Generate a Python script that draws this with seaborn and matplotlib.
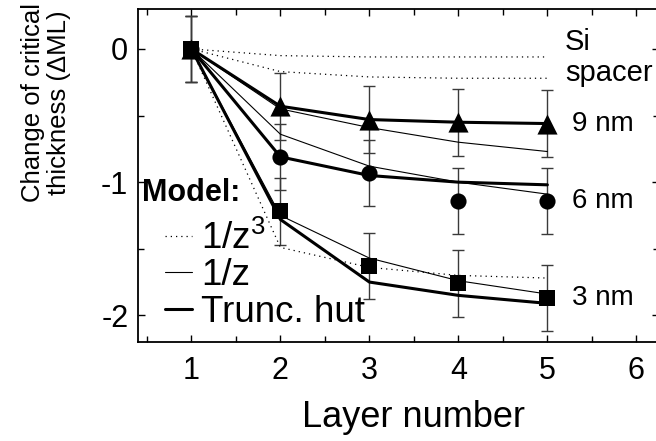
import matplotlib
matplotlib.use("Agg")
import matplotlib.pyplot as plt
from matplotlib.lines import Line2D
from matplotlib.ticker import MultipleLocator
import pandas as pd
import seaborn as sns

# Layer index along the stack
layers = [1, 2, 3, 4, 5]

# Measured change of critical thickness (ML) for each Si spacer thickness
spacers = ["9 nm", "6 nm", "3 nm"]
meas_9nm = [0.0, -0.43, -0.53, -0.55, -0.56]
meas_6nm = [0.0, -0.81, -0.93, -1.14, -1.14]
meas_3nm = [0.0, -1.22, -1.63, -1.76, -1.87]
meas_err = [0.25, 0.25, 0.25, 0.25, 0.25]

# Model curves: truncated hut, 1/z and 1/z^3 strain decay
hut_9nm = [0.0, -0.43, -0.53, -0.55, -0.56]
hut_6nm = [0.0, -0.81, -0.95, -1.00, -1.02]
hut_3nm = [0.0, -1.28, -1.75, -1.85, -1.91]

invz_9nm = [0.0, -0.45, -0.59, -0.70, -0.77]
invz_6nm = [0.0, -0.64, -0.88, -1.00, -1.09]
invz_3nm = [0.0, -1.25, -1.57, -1.74, -1.84]

invz3_9nm = [0.0, -0.05, -0.06, -0.06, -0.06]
invz3_6nm = [0.0, -0.17, -0.21, -0.22, -0.22]
invz3_3nm = [0.0, -1.49, -1.64, -1.70, -1.72]

model_names = ["1/z$^{3}$", "1/z", "Trunc. hut"]
x_ticks = [1, 2, 3, 4, 5, 6]
y_ticks = [0, -1, -2]

sns.set_theme(style="ticks")
plt.rcParams["font.family"] = ["Liberation Sans", "DejaVu Sans"]
plt.rcParams["mathtext.default"] = "regular"
for key in ("text.color", "axes.labelcolor", "xtick.color", "ytick.color",
            "axes.edgecolor"):
    plt.rcParams[key] = "black"

# Long-form table of the model curves
rows = []
model_data = {
    "1/z$^{3}$": [invz3_9nm, invz3_6nm, invz3_3nm],
    "1/z": [invz_9nm, invz_6nm, invz_3nm],
    "Trunc. hut": [hut_9nm, hut_6nm, hut_3nm],
}
for model, curves in model_data.items():
    for sp, vals in zip(spacers, curves):
        for x, v in zip(layers, vals):
            rows.append({"layer": x, "value": v, "spacer": sp, "model": model})
models = pd.DataFrame(rows)

meas = pd.DataFrame({
    "layer": layers * 3,
    "value": meas_9nm + meas_6nm + meas_3nm,
    "err": meas_err * 3,
    "spacer": [s for s in spacers for _ in layers],
})

fig = plt.figure(figsize=(6.56, 4.41), dpi=100)
ax = fig.add_axes([138 / 656, 1 - 342 / 441, 520.6 / 656, 333 / 441])

line_styles = {
    "1/z$^{3}$": dict(lw=0.9, ls=(0, (1, 3.2))),
    "1/z": dict(lw=0.8, ls="-"),
    "Trunc. hut": dict(lw=2.2, ls="-"),
}

# Error bars of the measured points
for sp in spacers:
    d = meas[meas.spacer == sp]
    ax.errorbar(d.layer, d.value, yerr=d.err, fmt="none", ecolor="#3a3a3a",
                elinewidth=1.0, capsize=4, capthick=1.0, zorder=2)

# Model curves
for model in model_names:
    for sp in spacers:
        d = models[(models.model == model) & (models.spacer == sp)]
        sns.lineplot(data=d, x="layer", y="value", ax=ax, color="black",
                     estimator=None, sort=False, zorder=3,
                     linewidth=line_styles[model]["lw"],
                     linestyle=line_styles[model]["ls"])

# Measured points
marker_map = {"9 nm": ("^", 210), "6 nm": ("o", 135), "3 nm": ("s", 120)}
for sp in spacers:
    d = meas[meas.spacer == sp]
    m, s = marker_map[sp]
    sns.scatterplot(data=d, x="layer", y="value", ax=ax, marker=m, s=s,
                    color="black", edgecolor="black", linewidth=0, zorder=4)

ax.set_xlim(0.4, 6.25)
ax.set_ylim(-2.2, 0.3)
ax.set_xticks(x_ticks)
ax.set_yticks(y_ticks)
ax.set_yticklabels([str(t) for t in y_ticks])
ax.xaxis.set_minor_locator(MultipleLocator(0.5))
ax.yaxis.set_minor_locator(MultipleLocator(0.5))
ax.tick_params(which="both", direction="in", top=True, right=True,
               width=1.0, colors="black", labelsize=22)
ax.tick_params(which="major", length=5)
ax.tick_params(which="minor", length=4)
ax.tick_params(axis="x", pad=10)
ax.tick_params(axis="y", pad=7)
for sp in ax.spines.values():
    sp.set_linewidth(1.3)
    sp.set_color("black")

ax.set_xlabel("Layer number", fontsize=26)
ax.xaxis.set_label_coords(0.530, -0.228)
ax.xaxis.label.set_va("center")

ax.set_ylabel("Change of critical\nthickness (\u0394ML)", fontsize=18.5,
              linespacing=1.08)
ax.yaxis.set_label_coords(-0.177, 0.718)
ax.yaxis.label.set_va("center")

# Spacer annotations
ax.text(5.20, 0.05, "Si", fontsize=21, ha="left", va="center")
ax.text(5.20, -0.18, "spacer", fontsize=21, ha="left", va="center")
for sp, vals in zip(spacers, [meas_9nm, meas_6nm, meas_3nm]):
    ax.text(5.28, vals[-1], sp, fontsize=20, ha="left", va="center")

# Model legend
ax.text(0.44, -1.08, "Model:", fontsize=22, fontweight="bold",
        ha="left", va="center")
handles = [Line2D([], [], color="black", linewidth=line_styles[m]["lw"],
                  linestyle=line_styles[m]["ls"]) for m in model_names]
leg = ax.legend(handles, model_names, loc="upper left",
                bbox_to_anchor=(0.052, 0.365), frameon=False, fontsize=26.5,
                handlelength=0.72, handletextpad=0.25, labelspacing=0.04,
                borderpad=0.0, borderaxespad=0.0)

fig.savefig("out.png", dpi=100)
